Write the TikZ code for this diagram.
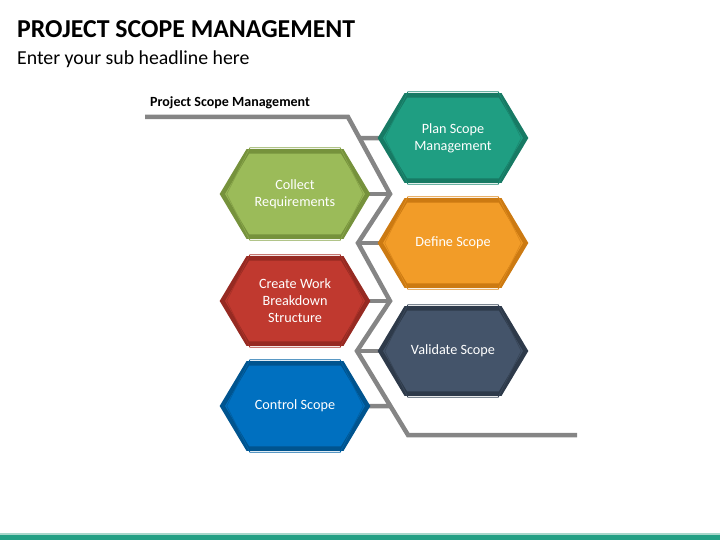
\documentclass[tikz,border=0pt]{standalone}
\usepackage{fontspec}
\setmainfont{Carlito}
\usetikzlibrary{calc}
\pgfdeclarelayer{background}
\pgfsetlayers{background,main}
\definecolor{tealF}{HTML}{1F9E82}
\definecolor{tealB}{HTML}{177A64}
\definecolor{greenF}{HTML}{9BBB59}
\definecolor{greenB}{HTML}{76923C}
\definecolor{orangeF}{HTML}{F29C28}
\definecolor{orangeB}{HTML}{CC7A12}
\definecolor{redF}{HTML}{C0392F}
\definecolor{redB}{HTML}{962A22}
\definecolor{slateF}{HTML}{44546A}
\definecolor{slateB}{HTML}{2E3A4A}
\definecolor{blueF}{HTML}{0070C0}
\definecolor{blueB}{HTML}{00548F}
\definecolor{lineG}{HTML}{858585}
\definecolor{barT}{HTML}{23A084}
\definecolor{barL}{HTML}{A8D8CB}
\newcommand\hexshape[3]{%
  \filldraw[fill=#2, draw=#3, line width=4.5pt, line join=miter]
    (#1.west) -- ($(#1.north west)+(25.5,0)$) -- ($(#1.north east)+(-25.5,0)$)
    -- (#1.east) -- ($(#1.south east)+(-25.5,0)$) -- ($(#1.south west)+(25.5,0)$) -- cycle;
  \draw[draw=#3!55!#2, line width=0.8pt, line join=miter]
    ($(#1.west)+(4.5,0)$) -- ($(#1.north west)+(27.5,-3.5)$) -- ($(#1.north east)+(-27.5,-3.5)$)
    -- ($(#1.east)+(-4.5,0)$) -- ($(#1.south east)+(-27.5,3.5)$) -- ($(#1.south west)+(27.5,3.5)$) -- cycle;
}
\tikzset{
  hexbox/.style={minimum width=145pt, minimum height=85pt, inner sep=0pt,
    text=white, align=center, font=\fontsize{14.2}{17}\selectfont},
  zig/.style={draw=lineG, line width=4.5pt, line join=miter}
}
\begin{document}
\begin{tikzpicture}[x=1pt,y=-1pt]
\useasboundingbox (0,0) rectangle (720,540);
% titles
\node[anchor=base west, inner sep=0pt, font=\fontsize{25.8}{30}\selectfont\bfseries] (title) at (17,37.5) {PROJECT SCOPE MANAGEMENT};
\node[anchor=base west, inner sep=0pt, font=\fontsize{19.8}{23}\selectfont] (sub) at (17,65) {Enter your sub headline here};
\node[anchor=base west, inner sep=0pt, font=\fontsize{14}{16}\selectfont\bfseries] (lbl) at (150,106.5) {Project Scope Management};
% hexagon nodes
\node[hexbox] (plan) at (453,138) {Plan Scope\\Management};
\node[hexbox] (collect) at (295,194) {Collect\\Requirements};
\node[hexbox] (define) at (453,243) {Define Scope};
\node[hexbox] (wbs) at (295,301) {Create Work\\Breakdown\\Structure};
\node[hexbox] (validate) at (453,351) {Validate Scope};
\node[hexbox] (control) at (295,406) {Control Scope};
% zigzag coordinates
\coordinate (z1) at (145,117);
\coordinate (z2) at (348,117);
\coordinate (z3) at (390,194);
\coordinate (z4) at (358,243);
\coordinate (z5) at (390,301);
\coordinate (z6) at (357,351);
\coordinate (z7) at (408,435);
\coordinate (z8) at (577,435);
\coordinate (p1) at ($(z2)!0.273!(z3)$);
\coordinate (p2) at ($(z6)!0.655!(z7)$);
\begin{pgfonlayer}{background}
\draw[zig] (z1) -- (z2) -- (z3) -- (z4) -- (z5) -- (z6) -- (z7) -- (z8);
\draw[zig] (p1) -- (plan.west);
\draw[zig] (collect.east) -- (z3);
\draw[zig] (z4) -- (define.west);
\draw[zig] (wbs.east) -- (z5);
\draw[zig] (z6) -- (validate.west);
\draw[zig] (control.east) -- (p2);
\hexshape{plan}{tealF}{tealB}
\hexshape{collect}{greenF}{greenB}
\hexshape{define}{orangeF}{orangeB}
\hexshape{wbs}{redF}{redB}
\hexshape{validate}{slateF}{slateB}
\hexshape{control}{blueF}{blueB}
\end{pgfonlayer}
% bottom bar
\fill[barL] (0,533) rectangle (720,534.5);
\fill[barT] (0,534.5) rectangle (720,540);
\end{tikzpicture}
\end{document}
